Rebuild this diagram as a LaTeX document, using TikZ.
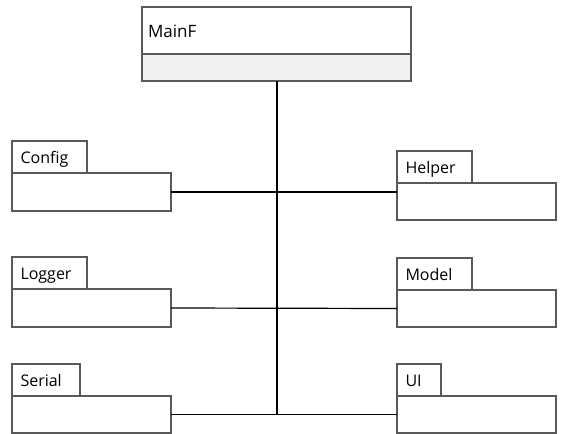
\documentclass[tikz,border=0pt]{standalone}
\usepackage{fontspec}
\setmainfont{Open Sans}
\usepackage{tikz}
\usetikzlibrary{positioning}
\definecolor{rahmengrau}{rgb}{0.35,0.35,0.35}
\definecolor{hellgrau}{rgb}{0.94,0.94,0.94}

\tikzset{
  kasten/.style={draw=rahmengrau, line width=1.2pt, fill=white, rectangle, minimum width=159pt, minimum height=#1, inner sep=0pt, outer sep=0pt, anchor=north west},
  reiter/.style={draw=rahmengrau, line width=1.2pt, fill=white, rectangle, minimum width=#1, minimum height=32pt, outer sep=0pt,
    inner xsep=8.5pt, inner ysep=0pt, text width=#1-17pt, align=left, text height=15pt, text depth=3pt,
    font=\fontsize{16}{18}\selectfont, anchor=south west},
  linie/.style={line width=1.2pt, black}
}

\begin{document}
\begin{tikzpicture}[x=1pt, y=-1pt] % 1 Einheit = 1 Pixel, y nach unten

\useasboundingbox (0,0) rectangle (571,434);

% Hauptklasse oben
\node[draw=rahmengrau, line width=1.2pt, rectangle, minimum width=269pt, minimum height=47pt, inner xsep=6pt, inner ysep=0pt, outer sep=0pt,
  text width=257pt, align=left, text height=16pt, text depth=3pt, font=\fontsize{17}{19}\selectfont, anchor=north west]
  (mainf) at (142,7) {MainF};
\node[draw=rahmengrau, line width=1.2pt, fill=hellgrau, rectangle, minimum width=269pt, minimum height=27pt, inner sep=0pt, outer sep=0pt,
  anchor=north] (mainfunten) at (mainf.south) {};

% Pakete links
\node[kasten=38pt] (config) at (12,173) {};
\node[reiter=75pt] (configtab) at (config.north west) {Config};
\node[kasten=38pt] (logger) at (12,289) {};
\node[reiter=75pt] (loggertab) at (logger.north west) {Logger};
\node[kasten=37pt] (serial) at (12,396) {};
\node[reiter=68pt] (serialtab) at (serial.north west) {Serial};

% Pakete rechts
\node[kasten=37pt] (helper) at (397,183) {};
\node[reiter=75pt] (helpertab) at (helper.north west) {Helper};
\node[kasten=37pt] (model) at (397,290) {};
\node[reiter=75pt] (modeltab) at (model.north west) {Model};
\node[kasten=37pt] (ui) at (397,396) {};
\node[reiter=44pt] (uitab) at (ui.north west) {UI};

% Verbindungen
\draw[line width=2pt] (mainfunten.south) -- (mainfunten.south |- serial.east); % senkrechte Linie
\draw[linie] (config.east) -- (helper.west |- config.east);
\draw[linie] (logger.east) -- (model.west);
\draw[linie] (serial.east) -- (ui.west);

\end{tikzpicture}
\end{document}
